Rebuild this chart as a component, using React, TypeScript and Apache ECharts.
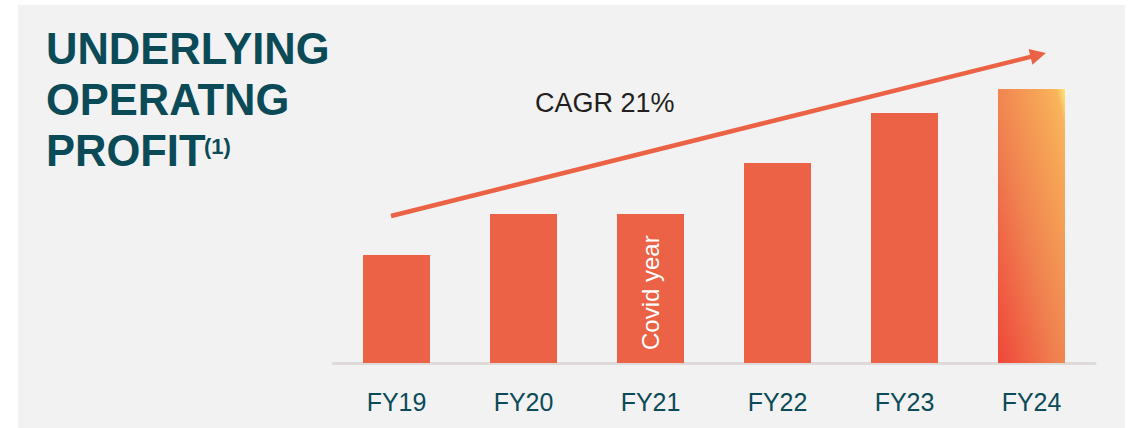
import React, { useEffect, useRef } from "react";
import * as echarts from "echarts";

const categories = ["FY19", "FY20", "FY21", "FY22", "FY23", "FY24"];
const profitValues = [108, 149, 149, 200, 250, 274];
const titleLines = ["UNDERLYING", "OPERATNG", "PROFIT"];
const titleNote = "(1)";
const cagrLabel = "CAGR 21%";
const covidLabel = "Covid year";

const BAR = "#ec6246";
const TEAL = "#0b4a57";

export default function App() {
  const ref = useRef<HTMLDivElement>(null);
  useEffect(() => {
    document.body.style.margin = "0";
    const chart = echarts.init(ref.current!, null, { renderer: "svg" });
    const gradient = new echarts.graphic.LinearGradient(0, 1, 1, 0, [
      { offset: 0, color: "#ef463a" },
      { offset: 0.45, color: "#f08150" },
      { offset: 0.8, color: "#f6a556" },
      { offset: 0.93, color: "#f9b45b" },
      { offset: 1, color: "#ffe874" },
    ]);
    const data = profitValues.map((v, i) => {
      const item: any = { value: v };
      if (categories[i] === "FY21") {
        item.label = {
          show: true,
          formatter: covidLabel,
          position: "insideBottom",
          rotate: 90,
          align: "left",
          verticalAlign: "middle",
          distance: 13,
          color: "#ffffff",
          fontSize: 24,
          fontFamily: "Liberation Sans",
        };
      }
      if (i === profitValues.length - 1) {
        item.itemStyle = { color: gradient };
      }
      return item;
    });
    const titleTexts = titleLines.map((t, i) => ({
      type: "text",
      x: 46,
      y: 49 + i * 51,
      style: {
        text: t,
        fill: TEAL,
        font: "bold 43.5px 'Liberation Sans'",
        textVerticalAlign: "middle",
        textAlign: "left",
      },
    }));
    // arrow direction
    const x0 = 391, y0 = 216, x1 = 1046, y1 = 53;
    const dx = x1 - x0, dy = y1 - y0;
    const len = Math.sqrt(dx * dx + dy * dy);
    const ux = dx / len, uy = dy / len;
    const headLen = 16, headHalf = 8;
    const bx = x1 - ux * headLen, by = y1 - uy * headLen;
    chart.setOption({
      animation: false,
      backgroundColor: "#ffffff",
      grid: { left: 333, right: 37, top: 89, bottom: 65 },
      xAxis: {
        type: "category",
        data: categories,
        axisLine: { show: true, lineStyle: { color: "#dedada", width: 3 } },
        axisTick: { show: false },
        axisLabel: {
          color: TEAL,
          fontSize: 25,
          fontFamily: "Liberation Sans",
          margin: 26,
        },
      },
      yAxis: {
        type: "value",
        min: 0,
        max: 274,
        show: false,
        splitLine: { show: false },
      },
      series: [
        {
          type: "bar",
          data,
          barWidth: 67,
          itemStyle: { color: BAR },
          z: 3,
        },
      ],
      graphic: [
        {
          type: "rect",
          shape: { x: 18, y: 5, width: 1107, height: 423 },
          style: { fill: "#f2f2f2" },
          z: -10,
          silent: true,
        },
        ...titleTexts,
        {
          type: "text",
          x: 204,
          y: 146,
          style: {
            text: titleNote,
            fill: TEAL,
            font: "bold 22px 'Liberation Sans'",
            textVerticalAlign: "middle",
            textAlign: "left",
          },
        },
        {
          type: "text",
          x: 535,
          y: 103,
          style: {
            text: cagrLabel,
            fill: "#231f20",
            font: "27px 'Liberation Sans'",
            textVerticalAlign: "middle",
            textAlign: "left",
          },
        },
        {
          type: "line",
          shape: { x1: x0, y1: y0, x2: bx + ux * 2, y2: by + uy * 2 },
          style: { stroke: BAR, lineWidth: 4.5 },
          z: 10,
        },
        {
          type: "polygon",
          shape: {
            points: [
              [x1, y1],
              [bx - uy * headHalf, by + ux * headHalf],
              [bx + uy * headHalf, by - ux * headHalf],
            ],
          },
          style: { fill: BAR },
          z: 10,
        },
      ],
    });
    return () => chart.dispose();
  }, []);
  return <div ref={ref} style={{ width: 1132, height: 428 }} />;
}
